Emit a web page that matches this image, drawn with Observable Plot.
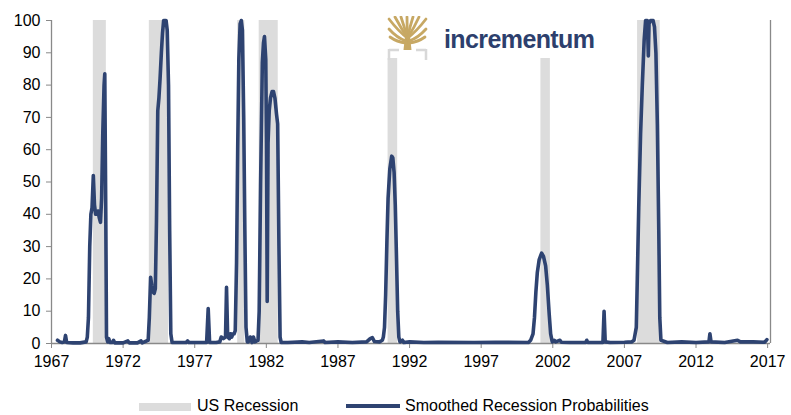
<!DOCTYPE html>
<html>
<head>
<meta charset="utf-8">
<script src="https://cdn.jsdelivr.net/npm/d3@7"></script>
<script src="https://cdn.jsdelivr.net/npm/@observablehq/plot@0.6"></script>
<style>
  html, body { margin: 0; padding: 0; background: #fff; }
  body { width: 791px; height: 415px; position: relative; overflow: hidden; font-family: "Liberation Sans", Arial, sans-serif; }
  #chart { position: absolute; left: 0; top: 0; }
  .lg { position: absolute; font-size: 16px; line-height: 16px; color: #000; white-space: nowrap; }
  #logo-bg { position: absolute; left: 384px; top: 14px; width: 216px; height: 44px; background: #fff; }
  #logo-text { position: absolute; left: 444px; top: 24px; font-size: 25px; font-weight: bold; color: #2d3f6d; letter-spacing: -0.6px; line-height: 30px; }
</style>
</head>
<body>
<div id="chart"></div>
<div id="logo-bg"></div>
<svg id="logo-icon" width="42" height="46" style="position:absolute;left:387px;top:16px">
  <g fill="none" stroke="#d8d8d8" stroke-width="2.5">
    <path d="M2,33 V44 M2,34 H12 M39,33 V44 M39,34 H29"/>
  </g>
  <g fill="#c7a864" stroke="none">
    <path d="M16.5,34 L24.5,34 L23,20 L18,20 Z"/>
  </g>
  <g fill="none" stroke="#c7a864" stroke-width="2.8" stroke-linecap="round">
    <path d="M20.5,22 Q12,16 2,3"/>
    <path d="M20.5,22 Q14,12 8,1"/>
    <path d="M20.5,22 Q17,10 14,1"/>
    <path d="M20.5,22 Q20,10 20,1"/>
    <path d="M20.5,22 Q23,10 26,1"/>
    <path d="M20.5,22 Q27,12 32,1"/>
    <path d="M20.5,22 Q29,16 39,3"/>
    <path d="M19,25 Q10,22 2,13"/>
    <path d="M22,25 Q31,22 39,13"/>
    <path d="M19,27 Q10,26 3,21"/>
    <path d="M22,27 Q31,26 38,21"/>
  </g>
</svg>
<div id="logo-text">incrementum</div>
<div class="lg" style="left:139px;top:403px;width:52px;height:8px;background:#dcdcdc"></div>
<div class="lg" style="left:197px;top:398px">US Recession</div>
<div class="lg" style="left:346px;top:404px;width:54px;height:4px;background:#2e4371"></div>
<div class="lg" style="left:405px;top:398px">Smoothed Recession Probabilities</div>
<script>
// Recession periods (decimal years)
const recessionStart = [1969.92, 1973.83, 1980.0, 1981.5, 1990.5, 2001.17, 2007.92];
const recessionEnd   = [1970.83, 1975.17, 1980.5, 1982.83, 1991.17, 2001.83, 2009.5];

// Smoothed recession probabilities (%)
const dates = [
  1967.42, 1967.58, 1967.75, 1967.9, 1967.98, 1968.06, 1968.5, 1969.0, 1969.42, 1969.5,
  1969.58, 1969.67, 1969.75, 1969.83, 1969.92, 1970.0, 1970.08, 1970.17, 1970.25, 1970.33,
  1970.42, 1970.5, 1970.58, 1970.67, 1970.72, 1970.79, 1970.84, 1970.92, 1971.0, 1971.08,
  1971.25, 1971.33, 1971.42, 1972.0, 1972.33, 1972.42, 1973.0, 1973.25, 1973.33, 1973.75,
  1973.83, 1973.92, 1974.0, 1974.08, 1974.17, 1974.25, 1974.33, 1974.42, 1974.5, 1974.58,
  1974.67, 1974.75, 1974.83, 1974.92, 1975.0, 1975.08, 1975.17, 1975.25, 1975.33, 1975.42,
  1976.4, 1976.5, 1976.6, 1977.83, 1977.94, 1978.04, 1978.5, 1978.75, 1978.85, 1979.0,
  1979.15, 1979.22, 1979.3, 1979.42, 1979.5, 1979.58, 1979.67, 1979.75, 1979.83, 1979.92,
  1980.0, 1980.08, 1980.17, 1980.25, 1980.33, 1980.42, 1980.5, 1980.58, 1980.67, 1980.75,
  1980.88, 1981.0, 1981.1, 1981.2, 1981.33, 1981.42, 1981.5, 1981.6, 1981.72, 1981.8,
  1981.87, 1981.96, 1982.01, 1982.06, 1982.12, 1982.2, 1982.29, 1982.4, 1982.5, 1982.6,
  1982.71, 1982.79, 1982.88, 1982.96, 1983.04, 1983.5, 1984.5, 1985.0, 1986.0, 1986.1,
  1987.0, 1988.0, 1989.0, 1989.25, 1989.4, 1989.55, 1989.9, 1990.1, 1990.17, 1990.25,
  1990.33, 1990.42, 1990.5, 1990.62, 1990.75, 1990.83, 1990.92, 1991.0, 1991.08, 1991.17,
  1991.25, 1991.33, 1991.5, 1991.6, 1992.0, 1993.0, 1994.0, 1996.5, 1998.0, 2000.3,
  2000.45, 2000.62, 2000.72, 2000.82, 2000.92, 2001.05, 2001.22, 2001.35, 2001.5, 2001.62,
  2001.75, 2001.85, 2001.96, 2002.1, 2002.2, 2002.5, 2002.6, 2003.2, 2004.3, 2004.37,
  2004.45, 2005.5, 2005.58, 2005.66, 2006.0, 2007.0, 2007.5, 2007.67, 2007.75, 2007.83,
  2007.9, 2008.0, 2008.13, 2008.25, 2008.38, 2008.48, 2008.6, 2008.67, 2008.72, 2008.83,
  2008.92, 2009.0, 2009.1, 2009.2, 2009.3, 2009.4, 2009.47, 2009.55, 2010.0, 2011.0,
  2012.0, 2012.9, 2012.97, 2013.05, 2014.0, 2014.9, 2015.1, 2016.0, 2016.8, 2016.95
];
const probs = [
  1.0, 0.5, 0.3, 0.5, 2.5, 0.3, 0.2, 0.2, 0.5, 2,
  8, 30, 40, 42, 52, 43, 40, 40, 41, 39,
  37.5, 45, 65, 80, 83.5, 40, 2, 0.5, 1.5, 0.3,
  0.3, 1, 0.2, 0.2, 0.8, 0.2, 0.2, 0.8, 0.2, 1,
  8, 20.5, 18, 16, 15.5, 17, 38, 72, 76, 82,
  90, 96, 100, 100, 100, 97, 80, 35, 3, 0.3,
  0.3, 0.8, 0.3, 0.3, 10.8, 0.3, 0.3, 0.5, 2, 1.5,
  2, 17.4, 2, 1.5, 3, 2, 3, 3, 4, 25,
  60, 88, 99, 100, 97, 70, 35, 5, 0.5, 0.5,
  2, 0.3, 2, 0.5, 0.8, 1, 10, 50, 87, 93,
  95, 88, 62, 13, 62, 72, 76, 78, 78, 76,
  71, 68, 30, 2, 0.3, 0.3, 0.5, 0.3, 0.8, 0.3,
  0.5, 0.3, 0.5, 1.5, 1.8, 0.6, 0.5, 1, 2, 5,
  15, 32, 45, 54, 58, 57.5, 53, 43, 28, 10,
  2, 0.5, 1, 0.3, 0.5, 0.3, 0.4, 0.3, 0.4, 0.3,
  1, 3, 8, 16, 22, 26, 28, 27, 24, 18,
  9, 3, 0.5, 1, 0.5, 1, 0.4, 0.3, 0.3, 1,
  0.3, 0.3, 10, 0.5, 0.3, 0.4, 0.5, 1, 3, 5,
  20, 42, 65, 80, 94, 100, 100, 89, 99, 100,
  100, 100, 98, 90, 68, 35, 8, 1, 0.3, 0.5,
  0.3, 0.5, 3, 0.5, 0.3, 1, 0.5, 0.5, 0.4, 1.2
];

const xTicks = [1967, 1972, 1977, 1982, 1987, 1992, 1997, 2002, 2007, 2012, 2017];
const yTicks = [0, 10, 20, 30, 40, 50, 60, 70, 80, 90, 100];

const recessions = recessionStart.map((s, i) => ({start: s, end: recessionEnd[i]}));
const series = dates.map((d, i) => ({date: d, value: probs[i]}));

const axisGray = "#898989";
const chart = Plot.plot({
  width: 791,
  height: 372,
  marginLeft: 51,
  marginRight: 21,
  marginTop: 20,
  marginBottom: 29,
  style: {fontFamily: "Liberation Sans, Arial, sans-serif", fontSize: "16px", color: "#000", background: "transparent"},
  x: {domain: [1967, 2017.2]},
  y: {domain: [0, 100]},
  marks: [
    Plot.rect(recessions, {x1: "start", x2: "end", y1: 0, y2: 100, fill: "#dcdcdc"}),
    Plot.ruleX([1967], {stroke: axisGray, strokeWidth: 1.3}),
    Plot.ruleX([2017.2], {stroke: axisGray, strokeWidth: 1.3}),
    Plot.ruleY([0], {stroke: axisGray, strokeWidth: 1.3}),
    Plot.axisX({ticks: xTicks, tickFormat: d => String(d), tickSize: 5, tickPadding: 7, stroke: axisGray, fill: "#000", fontSize: 16, label: null}),
    Plot.axisY({ticks: yTicks, tickSize: 5, tickPadding: 6, stroke: axisGray, fill: "#000", fontSize: 16, label: null}),
    Plot.line(series, {x: "date", y: "value", stroke: "#2e4371", strokeWidth: 3.6, strokeLinejoin: "round", strokeLinecap: "round"})
  ]
});
document.getElementById("chart").appendChild(chart);
</script>
</body>
</html>
